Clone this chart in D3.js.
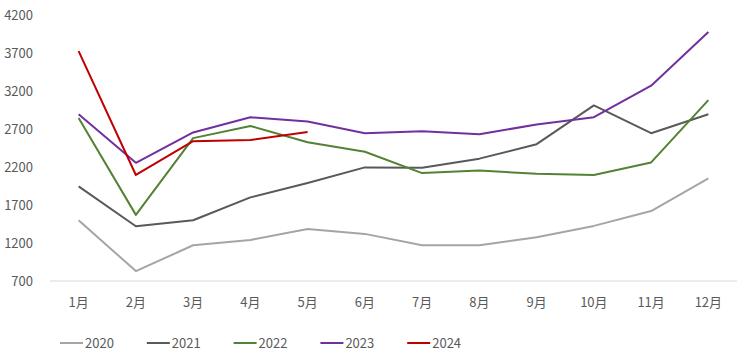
<!DOCTYPE html>
<html>
<head>
<meta charset="utf-8">
<script src="https://cdn.jsdelivr.net/npm/d3@7"></script>
<style>
  body { margin: 0; background: #fff; }
  text { font-family: "Noto Sans CJK SC", "Noto Sans", sans-serif; fill: #595959; }
</style>
</head>
<body>
<div id="chart"></div>
<script>
const months = ["1月", "2月", "3月", "4月", "5月", "6月", "7月", "8月", "9月", "10月", "11月", "12月"];
const yTicks = [700, 1200, 1700, 2200, 2700, 3200, 3700, 4200];

const years = ["2020", "2021", "2022", "2023", "2024"];
const values2020 = [1500, 830, 1170, 1240, 1385, 1320, 1170, 1170, 1275, 1425, 1620, 2050];
const values2021 = [1945, 1420, 1500, 1800, 1990, 2195, 2190, 2310, 2500, 3010, 2645, 2895];
const values2022 = [2845, 1570, 2580, 2740, 2525, 2400, 2120, 2155, 2110, 2095, 2260, 3080];
const values2023 = [2895, 2255, 2655, 2855, 2800, 2645, 2670, 2630, 2760, 2855, 3270, 3975];
const values2024 = [3725, 2095, 2540, 2555, 2660];
const colors = ["#a5a5a5", "#595959", "#548235", "#7030a0", "#c00000"];

const seriesValues = [values2020, values2021, values2022, values2023, values2024];

const width = 745, height = 360;
const margin = { top: 15, right: 8, bottom: 79, left: 50 };

const svg = d3.select("#chart")
  .append("svg")
  .attr("width", width)
  .attr("height", height);

const x = d3.scaleBand()
  .domain(months)
  .range([margin.left, width - margin.right]);

const y = d3.scaleLinear()
  .domain([700, 4200])
  .range([height - margin.bottom, margin.top]);

// y labels (no axis line)
svg.append("g")
  .selectAll("text")
  .data(yTicks)
  .enter()
  .append("text")
  .attr("x", 33)
  .attr("y", d => y(d))
  .attr("dy", "0.35em")
  .attr("text-anchor", "end")
  .style("font-size", "13px")
  .text(d => d);

// baseline
svg.append("line")
  .attr("x1", margin.left)
  .attr("x2", width - margin.right)
  .attr("y1", y(700))
  .attr("y2", y(700))
  .attr("stroke", "#d9d9d9")
  .attr("stroke-width", 1);

// x labels
svg.append("g")
  .selectAll("text")
  .data(months)
  .enter()
  .append("text")
  .attr("x", d => x(d) + x.bandwidth() / 2)
  .attr("y", y(700) + 21)
  .attr("dy", "0.35em")
  .attr("text-anchor", "middle")
  .style("font-size", "13px")
  .text(d => d);

const line = d3.line()
  .x((d, i) => x(months[i]) + x.bandwidth() / 2)
  .y(d => y(d));

svg.append("g")
  .selectAll("path")
  .data(seriesValues)
  .enter()
  .append("path")
  .attr("d", d => line(d))
  .attr("fill", "none")
  .attr("stroke", (d, i) => colors[i])
  .attr("stroke-width", 2)
  .attr("stroke-linejoin", "round");

// legend
const legend = svg.append("g")
  .selectAll("g")
  .data(years)
  .enter()
  .append("g")
  .attr("transform", (d, i) => "translate(" + (60 + i * 86.8) + ", 343)");

legend.append("line")
  .attr("x1", 0)
  .attr("x2", 23)
  .attr("stroke", (d, i) => colors[i])
  .attr("stroke-width", 2);

legend.append("text")
  .attr("x", 25)
  .attr("dy", "0.35em")
  .style("font-size", "13px")
  .text(d => d);
</script>
</body>
</html>
